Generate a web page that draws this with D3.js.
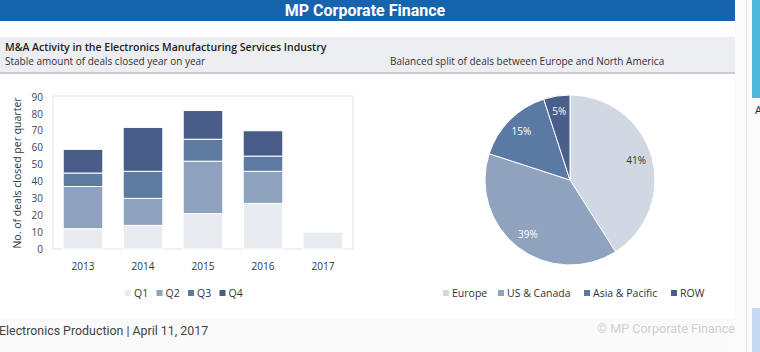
<html lang="en">
<head>
<meta charset="utf-8">
<title>MP Corporate Finance</title>
<script src="https://cdn.jsdelivr.net/npm/d3@7"></script>
<style>
  body { margin: 0; background: #fff; overflow: hidden; }
  text { font-family: "Open Sans", sans-serif; }
</style>
</head>
<body>
<svg width="760" height="352"></svg>
<script>
// data
var years = ["2013", "2014", "2015", "2016", "2017"];
var quarters = ["Q1", "Q2", "Q3", "Q4"];
var q1 = [12, 14, 21, 27, 10];
var q2 = [25, 16, 31, 19, 0];
var q3 = [8, 16, 13, 9, 0];
var q4 = [14, 26, 17, 15, 0];
var yTicks = [0, 10, 20, 30, 40, 50, 60, 70, 80, 90];
var regions = ["Europe", "US & Canada", "Asia & Pacific", "ROW"];
var regionShare = [41, 39, 15, 5];

var qColors = ["#e8ebf0", "#8fa2bd", "#5d7aa1", "#4a5d89"];
var rColors = ["#d0d8e3", "#8fa3bf", "#5b7aa3", "#4a5e8c"];

var svg = d3.select("svg");

// page chrome
svg.append("rect").attr("x", 0).attr("y", 0).attr("width", 735).attr("height", 21).attr("fill", "#1764ae");
svg.append("text").attr("x", 365).attr("y", 15.5).attr("text-anchor", "middle")
    .style("font-family", "Roboto").style("font-weight", "bold").style("font-size", "16px")
    .attr("fill", "#fff").text("MP Corporate Finance");

svg.append("rect").attr("x", 0).attr("y", 37).attr("width", 735).attr("height", 35).attr("fill", "#eceef2");
svg.append("rect").attr("x", 0).attr("y", 72).attr("width", 735).attr("height", 2).attr("fill", "#c9cbcf");
svg.append("text").attr("x", 5).attr("y", 51).style("font-size", "10.5px").style("font-weight", "600")
    .attr("fill", "#222").text("M&A Activity in the Electronics Manufacturing Services Industry");
svg.append("text").attr("x", 5).attr("y", 64.5).style("font-size", "10px")
    .attr("fill", "#333").text("Stable amount of deals closed year on year");
svg.append("text").attr("x", 390).attr("y", 64.5).style("font-size", "10px")
    .attr("fill", "#333").text("Balanced split of deals between Europe and North America");

// footer
svg.append("rect").attr("x", 0).attr("y", 318).attr("width", 735).attr("height", 34).attr("fill", "#fafafa");
svg.append("text").attr("x", -1).attr("y", 335).style("font-family", "Roboto").style("font-size", "12.4px")
    .attr("fill", "#444").text("Electronics Production | April 11, 2017");
svg.append("text").attr("x", 735).attr("y", 333).attr("text-anchor", "end").style("font-family", "Roboto")
    .style("font-size", "12.6px").attr("fill", "#d0d0d0").text("© MP Corporate Finance");

// right edge
svg.append("rect").attr("x", 735).attr("y", 0).attr("width", 25).attr("height", 352).attr("fill", "#fbfbfb");
svg.append("rect").attr("x", 746).attr("y", 0).attr("width", 1).attr("height", 352).attr("fill", "#e2e2e2");
svg.append("rect").attr("x", 752).attr("y", 0).attr("width", 8).attr("height", 98).attr("fill", "#4fb6dc");
svg.append("rect").attr("x", 752).attr("y", 308).attr("width", 8).attr("height", 44).attr("fill", "#c5d9f2");
svg.append("text").attr("x", 755).attr("y", 114).style("font-size", "11px").attr("fill", "#222").text("A");

// bar chart
var margin = {left: 53, top: 97, right: 353, bottom: 249};
var x = d3.scaleBand().domain(years).range([margin.left, margin.right]).paddingInner(0.34).paddingOuter(0.17);
var y = d3.scaleLinear().domain([0, 90]).range([margin.bottom, margin.top]);

svg.append("rect").attr("x", margin.left).attr("y", margin.top - 1)
    .attr("width", margin.right - margin.left).attr("height", margin.bottom - margin.top + 1)
    .attr("fill", "none").attr("stroke", "#e3e5e8");

var series = [q1, q2, q3, q4];
var rows = years.map(function(yr, i) {
    var o = {year: yr};
    quarters.forEach(function(q, j) { o[q] = series[j][i]; });
    return o;
});
var stack = d3.stack().keys(quarters)(rows);

svg.append("g").selectAll("g").data(stack).enter().append("g")
    .attr("fill", function(d, i) { return qColors[i]; })
    .selectAll("rect").data(function(d) { return d; }).enter()
    .filter(function(d) { return d[1] > d[0]; })
    .append("rect")
    .attr("x", function(d) { return x(d.data.year); })
    .attr("y", function(d) { return y(d[1]); })
    .attr("width", x.bandwidth())
    .attr("height", function(d) { return y(d[0]) - y(d[1]); })
    .attr("stroke", "#fff").attr("stroke-width", 1);

var yAxis = svg.append("g").attr("transform", "translate(" + (margin.left - 10) + ",0)")
    .call(d3.axisLeft(y).tickValues(yTicks).tickSize(0).tickPadding(0));
yAxis.select(".domain").remove();
yAxis.selectAll("text").style("font-size", "10px").attr("fill", "#444").style("font-family", "Open Sans");

var xAxis = svg.append("g").attr("transform", "translate(0," + margin.bottom + ")")
    .call(d3.axisBottom(x).tickSize(0).tickPadding(14));
xAxis.select(".domain").remove();
xAxis.selectAll("text").style("font-size", "10px").attr("fill", "#333").style("font-family", "Open Sans");

svg.append("text").attr("transform", "translate(21,173) rotate(-90)").attr("text-anchor", "middle")
    .style("font-size", "10.5px").attr("fill", "#333").text("No. of deals closed per quarter");

// bar legend
var qLeg = svg.append("g").selectAll("g").data(quarters).enter().append("g")
    .attr("transform", function(d, i) { return "translate(" + (125 + i * 31.5) + ",290)"; });
qLeg.append("rect").attr("width", 6).attr("height", 6).attr("y", 0).attr("fill", function(d, i) { return qColors[i]; });
qLeg.append("text").attr("x", 9).attr("y", 7).style("font-size", "10.5px").attr("fill", "#333").text(function(d) { return d; });

// pie chart
var cx = 570, cy = 180, r = 85;
var pie = d3.pie().sort(null).value(function(d) { return d; });
var arc = d3.arc().innerRadius(0).outerRadius(r);
var labelArc = d3.arc().innerRadius(r * 0.81).outerRadius(r * 0.81);
var arcs = pie(regionShare);
var pg = svg.append("g").attr("transform", "translate(" + cx + "," + cy + ")");
pg.selectAll("path").data(arcs).enter().append("path")
    .attr("d", arc).attr("fill", function(d, i) { return rColors[i]; })
    .attr("stroke", "#fff").attr("stroke-width", 1);
pg.selectAll("text").data(arcs).enter().append("text")
    .attr("transform", function(d) { return "translate(" + labelArc.centroid(d) + ")"; })
    .attr("text-anchor", "middle").attr("dy", "0.35em")
    .style("font-size", "10px")
    .attr("fill", function(d, i) { return i === 0 ? "#333" : "#fff"; })
    .text(function(d) { return d.data + "%"; });

// pie legend
var legX = [443, 498, 584, 671];
var rLeg = svg.append("g").selectAll("g").data(regions).enter().append("g")
    .attr("transform", function(d, i) { return "translate(" + legX[i] + ",290)"; });
rLeg.append("rect").attr("width", 6).attr("height", 6).attr("fill", function(d, i) { return rColors[i]; });
rLeg.append("text").attr("x", 9).attr("y", 7).style("font-size", "10.5px").attr("fill", "#333").text(function(d) { return d; });
</script>
</body>
</html>
